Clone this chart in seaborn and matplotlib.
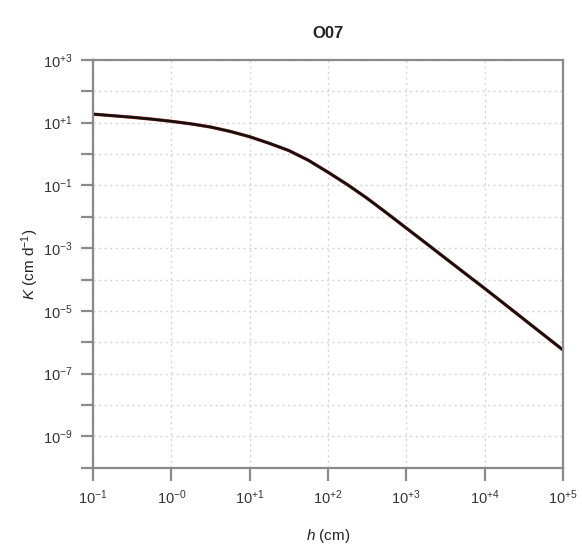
import numpy as np
import pandas as pd
import matplotlib
matplotlib.use("Agg")
import matplotlib.pyplot as plt
import seaborn as sns
from matplotlib.ticker import FixedLocator, NullLocator, NullFormatter

# Pressure head (cm) and hydraulic conductivity (cm/d) for soil O07
h_cm = [0.1, 0.178, 0.316, 0.562, 1.0, 1.78, 3.16, 5.62, 10.0, 17.8, 31.6, 56.2,
        100.0, 178.0, 316.0, 562.0, 1000.0, 1780.0, 3160.0, 5620.0, 10000.0,
        17800.0, 31600.0, 56200.0, 100000.0]
K_cm_d = [18.6, 16.6, 14.8, 12.9, 11.0, 9.12, 7.24, 5.25, 3.55, 2.19, 1.29, 0.631,
          0.263, 0.105, 0.0389, 0.0132, 0.00437, 0.00145, 4.79e-4, 1.58e-4, 5.25e-5,
          1.70e-5, 5.50e-6, 1.78e-6, 5.75e-7]

x_tick_exp = [-1, 0, 1, 2, 3, 4, 5]
x_tick_labels = ["10$^{-1}$", "10$^{-0}$", "10$^{+1}$", "10$^{+2}$", "10$^{+3}$",
                 "10$^{+4}$", "10$^{+5}$"]
y_tick_exp = [3, 1, -1, -3, -5, -7, -9]
y_tick_labels = ["10$^{+3}$", "10$^{+1}$", "10$^{-1}$", "10$^{-3}$", "10$^{-5}$",
                 "10$^{-7}$", "10$^{-9}$"]

sns.set_theme(style="white")
plt.rcParams["font.family"] = ["Liberation Sans", "DejaVu Sans"]
plt.rcParams["mathtext.fontset"] = "custom"
plt.rcParams["mathtext.rm"] = "Liberation Sans"
plt.rcParams["mathtext.it"] = "Liberation Sans:italic"
plt.rcParams["mathtext.bf"] = "Liberation Sans:bold"

df = pd.DataFrame({"h": h_cm, "K": K_cm_d})

fig = plt.figure(figsize=(5.82, 5.44), dpi=100)
ax = fig.add_axes([0.160, 0.140, 0.807, 0.750])

sns.lineplot(data=df, x="h", y="K", ax=ax, color="#c0392b", linewidth=2.4, sort=False)
sns.lineplot(data=df, x="h", y="K", ax=ax, color="#111111", linewidth=1.9, sort=False)

ax.set_xscale("log")
ax.set_yscale("log")
ax.set_xlim(1e-1, 1e5)
ax.set_ylim(1e-10, 1e3)

spine_col = "#8a8a8a"
tick_col = "#333333"

ax.xaxis.set_major_locator(FixedLocator([10.0 ** e for e in x_tick_exp]))
ax.xaxis.set_minor_locator(NullLocator())
ax.xaxis.set_minor_formatter(NullFormatter())
ax.set_xticklabels(x_tick_labels)

minor_exp = [e for e in range(-10, 4) if e not in y_tick_exp]
ax.yaxis.set_major_locator(FixedLocator([10.0 ** e for e in y_tick_exp]))
ax.yaxis.set_minor_locator(FixedLocator([10.0 ** e for e in minor_exp]))
ax.yaxis.set_minor_formatter(NullFormatter())
ax.set_yticklabels(y_tick_labels)

ax.tick_params(axis="both", which="both", direction="out", length=9, width=1.6,
               color=spine_col, labelcolor=tick_col, labelsize=10.5, pad=6,
               bottom=True, left=True)

for s in ax.spines.values():
    s.set_color(spine_col)
    s.set_linewidth(1.6)

ax.grid(True, which="both", axis="both", color="#d4d4d4", linestyle=(0, (1.5, 2.5)), linewidth=1.0)
ax.set_axisbelow(True)

ax.set_xlabel("$\\it{h}$ (cm)", fontsize=11, color="#222222", labelpad=14)
ax.set_ylabel("$\\it{K}$ (cm d$^{-1}$)", fontsize=11, color="#222222", labelpad=1)
ax.set_title("O07", fontsize=12, fontweight="bold", color="#222222", pad=16)

fig.savefig("out.png", dpi=100)
